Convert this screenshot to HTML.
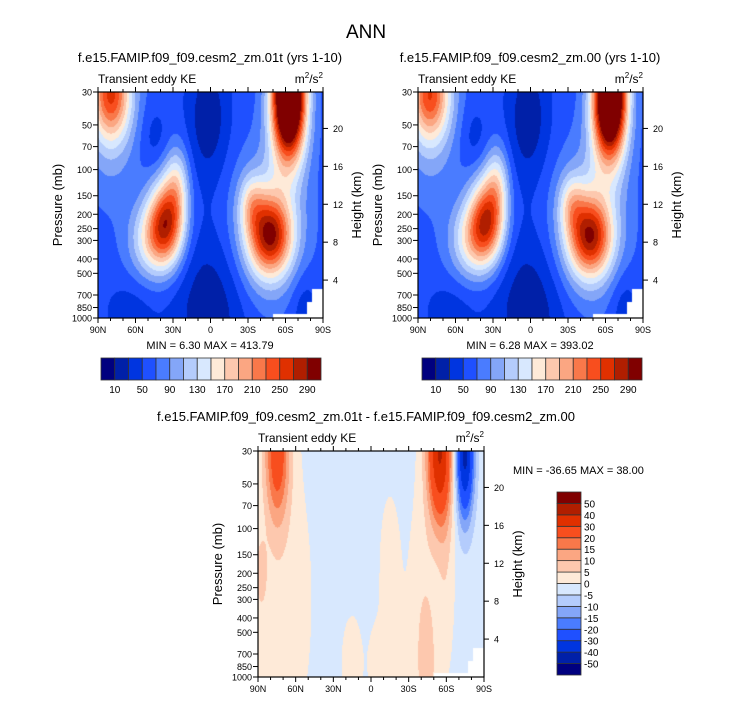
<!DOCTYPE html>
<html><head><meta charset="utf-8"><style>
body{margin:0;background:#fff;}
#root{position:relative;width:733px;height:701px;overflow:hidden;background:#fff;font-family:"Liberation Sans",sans-serif;}
canvas{position:absolute;}
svg{position:absolute;left:0;top:0;}
</style></head><body>
<div id="root">
<canvas id="c1" width="225" height="226" style="left:98px;top:92px"></canvas>
<canvas id="c2" width="225" height="226" style="left:418px;top:92px"></canvas>
<canvas id="c3" width="226" height="226" style="left:258px;top:451px"></canvas>
<svg id="ov" width="733" height="701"></svg>
</div>
<script>
// Colour levels
const keLevels = [10,30,50,70,90,110,130,150,170,190,210,230,250,270,290];
const keLabels = [10,50,90,130,170,210,250,290];
const diffLevels = [-50,-40,-30,-20,-15,-10,-5,0,5,10,15,20,30,40,50];
const palette = ["#00007f","#0020a8","#0035e0","#1f50ff","#4a7cff","#84a6f8","#b4ccfc","#d8e8fe","#feead8","#fdc8ae","#fba682","#f9784a","#f84e1e","#e03000","#b01e00","#800000"];
// Panel 1 field blobs (lat deg, pressure mb, amplitude, lat width, log-p width)
const p1Base = 60;
const p1Lat = [35,46,27,-48,-45,-33,-63,-62,80,80,2,0,65,-75,45];
const p1P   = [220,300,120,280,250,170,30,50,30,40,45,850,900,850,60];
const p1Amp = [170,95,70,175,70,60,360,60,150,50,-45,-45,-20,-25,-20];
const p1SL  = [10,13,7,12,20,7,9,12,11,15,12,22,15,8,8];
const p1ST  = [0.13,0.12,0.12,0.12,0.22,0.09,0.18,0.2,0.14,0.25,0.2,0.25,0.1,0.12,0.1];
// Panel 2 field blobs
const p2Base = 60;
const p2Lat = [35,46,27,-48,-45,-33,-64,-62,81,80,2,0,65,-75,45];
const p2P   = [215,300,120,285,250,170,30,50,30,40,45,850,900,850,60];
const p2Amp = [165,95,70,168,70,60,350,60,145,50,-45,-45,-20,-25,-20];
const p2SL  = [10,13,7,12,20,7,9,12,11,15,12,22,15,8,8];
const p2ST  = [0.13,0.12,0.12,0.12,0.22,0.09,0.18,0.2,0.14,0.25,0.2,0.25,0.1,0.12,0.1];
// Difference field blobs
const p3Base = -2;
const p3Lat = [75,72,-55,-75,-42,-15,15,-5,88,-60,-45,-20];
const p3P   = [30,300,30,30,500,200,800,800,200,200,900,800];
const p3Amp = [26,5,42,-42,6,5,5,5,8,5,5,5];
const p3SL  = [7,18,7,5,9,6,6,5,3,5,5,6];
const p3ST  = [0.22,0.5,0.22,0.2,0.45,0.25,0.15,0.12,0.1,0.3,0.2,0.15];
// Axis labels
const latTicks = [90,60,30,0,-30,-60,-90];
const latNames = ["90N","60N","30N","0","30S","60S","90S"];
const pTicks = [30,50,70,100,150,200,250,300,400,500,700,850,1000];
const zTicks = [4,8,12,16,20];

const LT = Math.log(1000/30);
function tOf(p){return Math.log(p/30)/LT;}
function field(lat,t,base,la,pa,am,sl,st){
  let v=base;
  for(let i=0;i<la.length;i++){
    const dx=(lat-la[i])/sl[i], dy=(t-tOf(pa[i]))/st[i];
    v+=am[i]*Math.exp(-0.5*(dx*dx+dy*dy));
  }
  return v;
}
function colorIdx(v,lev){let i=0;while(i<lev.length&&v>=lev[i])i++;return i;}
function hex(c){return [parseInt(c.slice(1,3),16),parseInt(c.slice(3,5),16),parseInt(c.slice(5,7),16)];}
const palRGB = palette.map(hex);
function drawField(id,base,la,pa,am,sl,st,lev){
  const cv=document.getElementById(id),ctx=cv.getContext('2d');
  const w=cv.width,h=cv.height,img=ctx.createImageData(w,h);
  for(let y=0;y<h;y++)for(let x=0;x<w;x++){
    const lat=90-x/(w-1)*180,t=y/(h-1);
    let rgb=palRGB[colorIdx(field(lat,t,base,la,pa,am,sl,st),lev)];
    const fx=x/(w-1);
    if((fx>0.955&&t>0.875)||(fx>0.93&&t>0.93)||(fx>0.78&&t>0.985)) rgb=[255,255,255];
    const k=(y*w+x)*4;img.data[k]=rgb[0];img.data[k+1]=rgb[1];img.data[k+2]=rgb[2];img.data[k+3]=255;
  }
  ctx.putImageData(img,0,0);
}
drawField('c1',p1Base,p1Lat,p1P,p1Amp,p1SL,p1ST,keLevels);
drawField('c2',p2Base,p2Lat,p2P,p2Amp,p2SL,p2ST,keLevels);
drawField('c3',p3Base,p3Lat,p3P,p3Amp,p3SL,p3ST,diffLevels);

const NS="http://www.w3.org/2000/svg",ov=document.getElementById('ov');
function el(tag,attrs,parent){const e=document.createElementNS(NS,tag);for(const k in attrs)e.setAttribute(k,attrs[k]);(parent||ov).appendChild(e);return e;}
function txt(s,x,y,size,anchor,parent,rot){const e=el('text',{x:x,y:y,'font-size':size,'text-anchor':anchor||'middle','font-family':'Liberation Sans, sans-serif',fill:'#000'},parent);if(rot)e.setAttribute('transform','rotate(-90 '+x+' '+y+')');e.textContent=s;return e;}

const t0=txt('ANN',366,38,19);


function axes(ox,oy,w,h,subtitle,subX,subY,name){
  const g=el('g',{});
  
  
  const st=txt(subtitle,subX,subY,13,'middle',g);
  
  const l=txt('Transient eddy KE',ox,oy-9,12,'start',g);
  
  const u=el('text',{x:ox+w,y:oy-9,'font-size':12,'text-anchor':'end','font-family':'Liberation Sans, sans-serif'},g);
  
  u.innerHTML='m<tspan dy="-5" font-size="8">2</tspan><tspan dy="5">/s</tspan><tspan dy="-5" font-size="8">2</tspan>';
  el('rect',{x:ox,y:oy,width:w,height:h,fill:'none',stroke:'#000','stroke-width':1.2},g);
  const xs=lat=>ox+(90-lat)/180*w;
  for(let lat=90;lat>=-90;lat-=10){
    const major=lat%30===0,len=major?5:3;
    el('line',{x1:xs(lat),x2:xs(lat),y1:oy+h,y2:oy+h+len,stroke:'#000'},g);
    el('line',{x1:xs(lat),x2:xs(lat),y1:oy,y2:oy-len,stroke:'#000'},g);
  }
  latTicks.forEach((lat,i)=>{const t=txt(latNames[i],xs(lat),oy+h+15,9,'middle',g);});
  const ys=p=>oy+tOf(p)*h;
  pTicks.forEach(p=>{
    el('line',{x1:ox-5,x2:ox,y1:ys(p),y2:ys(p),stroke:'#000'},g);
    const t=txt(String(p),ox-6,ys(p)+3.5,9,'end',g);
    
  });
  zTicks.forEach(z=>{
    const p=1000*Math.exp(-z/6.8),y=ys(p);
    el('line',{x1:ox+w,x2:ox+w+5,y1:y,y2:y,stroke:'#000'},g);
    const t=txt(String(z),ox+w+10,y+3.5,9,'start',g);
    
  });
  const yt=txt('Pressure (mb)',ox-36,oy+h/2,13,'middle',g,true);
  
  const ht=txt('Height (km)',ox+w+38,oy+h/2,13,'middle',g,true);
  
}
axes(98,92,225,226,'f.e15.FAMIP.f09_f09.cesm2_zm.01t (yrs 1-10)',210,62,'panel-01t');
axes(418,92,225,226,'f.e15.FAMIP.f09_f09.cesm2_zm.00 (yrs 1-10)',530,62,'panel-00');
axes(258,451,226,226,'f.e15.FAMIP.f09_f09.cesm2_zm.01t - f.e15.FAMIP.f09_f09.cesm2_zm.00',366,421,'panel-diff');

const m1=txt('MIN =   6.30  MAX = 413.79',210,349,11);

const m2=txt('MIN =   6.28  MAX = 393.02',530,349,11);

const m3=txt('MIN = -36.65  MAX =  38.00',513,474,11,'start');


function hbar(x0,x1,y,h,name){
  const g=el('g',{});
  
  
  const bw=(x1-x0)/palette.length;
  palette.forEach((c,i)=>el('rect',{x:x0+i*bw,y:y,width:bw,height:h,fill:c,stroke:'#333','stroke-width':0.8},g));
  keLabels.forEach(v=>{const i=keLevels.indexOf(v)+1;const t=txt(String(v),x0+i*bw,y+h+13,10,'middle',g);});
}
hbar(101,321,358,22,'colorbar-01t');
hbar(422,642,358,22,'colorbar-00');
(function(){
  const g=el('g',{});
  
  
  const y0=492,y1=675,x=557,w=24,bh=(y1-y0)/palette.length;
  palette.forEach((c,i)=>el('rect',{x:x,y:y1-(i+1)*bh,width:w,height:bh,fill:c,stroke:'#333','stroke-width':0.8},g));
  diffLevels.forEach((v,i)=>{const t=txt(String(v),x+w+3,y1-(i+1)*bh+4,10,'start',g);});
})();
</script>
</body></html>
